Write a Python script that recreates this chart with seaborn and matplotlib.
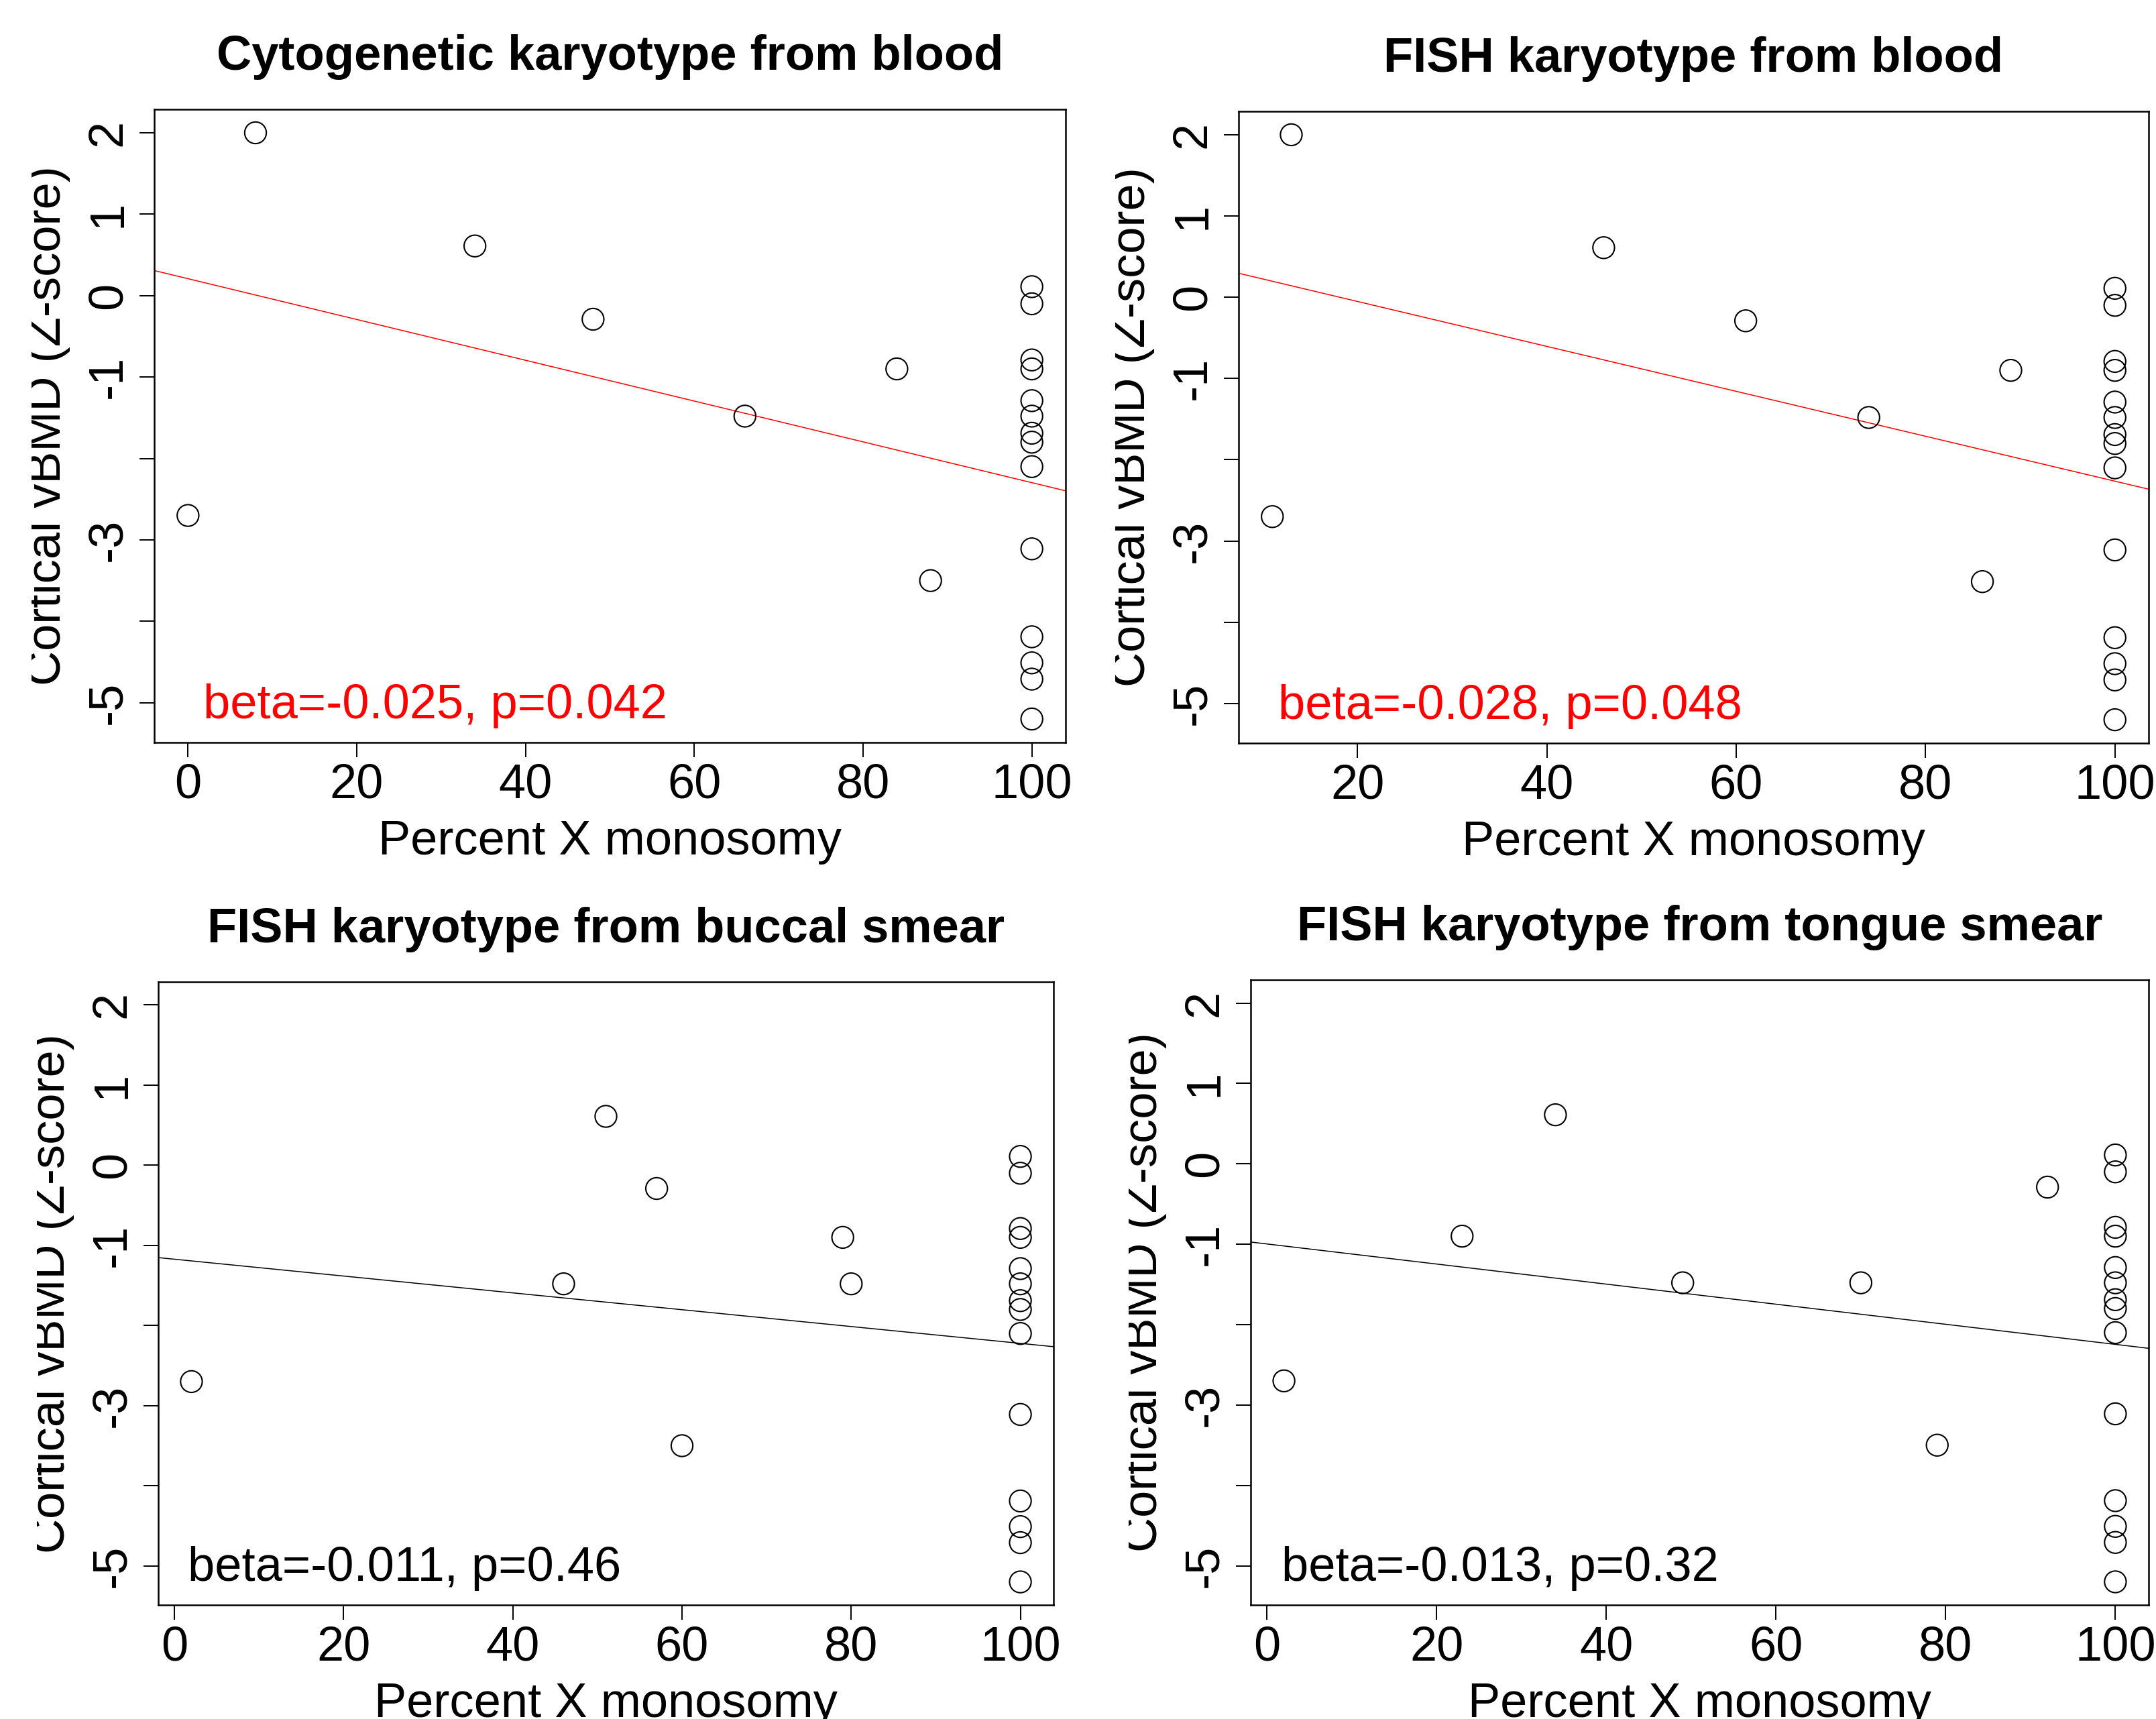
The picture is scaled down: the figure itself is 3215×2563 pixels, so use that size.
import matplotlib
matplotlib.use('Agg')
import matplotlib.pyplot as plt
import matplotlib.transforms as mtransforms
import seaborn as sns

# values
# x = percent X monosomy, y = cortical vBMD (Z-score)
cyto_blood_x = [0, 8, 34, 48, 66, 84, 88,
                100, 100, 100, 100, 100, 100, 100, 100, 100, 100, 100, 100, 100, 100]
cyto_blood_y = [-2.70, 2.00, 0.61, -0.29, -1.48, -0.90, -3.50,
                0.11, -0.10, -0.79, -0.90, -1.29, -1.48, -1.69, -1.80, -2.10,
                -3.11, -4.19, -4.51, -4.71, -5.20]

fish_blood_x = [11, 13, 46, 61, 74, 89, 86,
                100, 100, 100, 100, 100, 100, 100, 100, 100, 100, 100, 100, 100, 100]
fish_blood_y = [-2.70, 2.00, 0.61, -0.29, -1.48, -0.90, -3.50,
                0.11, -0.10, -0.79, -0.90, -1.29, -1.48, -1.69, -1.80, -2.10,
                -3.11, -4.19, -4.51, -4.71, -5.20]

fish_buccal_x = [2, 46, 51, 57, 60, 79, 80,
                 100, 100, 100, 100, 100, 100, 100, 100, 100, 100, 100, 100, 100, 100]
fish_buccal_y = [-2.70, -1.48, 0.61, -0.29, -3.50, -0.90, -1.48,
                 0.11, -0.10, -0.79, -0.90, -1.29, -1.48, -1.69, -1.80, -2.10,
                 -3.11, -4.19, -4.51, -4.71, -5.20]

fish_tongue_x = [2, 23, 34, 49, 70, 79, 92,
                 100, 100, 100, 100, 100, 100, 100, 100, 100, 100, 100, 100, 100, 100]
fish_tongue_y = [-2.70, -0.90, 0.61, -1.48, -1.48, -3.50, -0.29,
                 0.11, -0.10, -0.79, -0.90, -1.29, -1.48, -1.69, -1.80, -2.10,
                 -3.11, -4.19, -4.51, -4.71, -5.20]

# fitted lines as drawn (intercept, slope)
fit_intercepts = [0.208, 0.501, -1.173, -0.997]
fit_slopes = [-0.02505, -0.02765, -0.0105, -0.01249]

titles = ['Cytogenetic karyotype from blood', 'FISH karyotype from blood',
          'FISH karyotype from buccal smear', 'FISH karyotype from tongue smear']
stats_labels = ['beta=-0.025, p=0.042', 'beta=-0.028, p=0.048',
                'beta=-0.011, p=0.46', 'beta=-0.013, p=0.32']
xtick_vals = [0, 20, 40, 60, 80, 100]
xtick_labels = ['0', '20', '40', '60', '80', '100']
ytick_vals = [2, 1, 0, -1, -2, -3, -4, -5]
ytick_labels = ['2', '1', '0', '-1', '', '-3', '', '-5']

xs = [cyto_blood_x, fish_blood_x, fish_buccal_x, fish_tongue_x]
ys = [cyto_blood_y, fish_blood_y, fish_buccal_y, fish_tongue_y]
colors = ['red', 'red', 'black', 'black']

sns.set_style('ticks')
plt.rcParams['font.family'] = ['Liberation Sans', 'DejaVu Sans']
plt.rcParams['axes.unicode_minus'] = False
plt.rcParams['text.color'] = 'black'
plt.rcParams['axes.labelcolor'] = 'black'

W, H = 3215, 2563
FS = 52
fig = plt.figure(figsize=(W / 100, H / 100), dpi=100)
fig.patch.set_facecolor('white')

# axes boxes in pixels: left, top, right, bottom
boxes = [(230, 163, 1589, 1107), (1847, 166, 3204, 1108),
         (236, 1464, 1571, 2393), (1865, 1461, 3204, 2393)]
label_clip = [47, 1663, 55, 1683]
ann_x = [1.8, 11.6, 1.6, 1.7]

all_y = cyto_blood_y + fish_blood_y + fish_buccal_y + fish_tongue_y
ylo, yhi = min(all_y), max(all_y)
ypad = 0.04 * (yhi - ylo)

for i in range(4):
    l, t, r, b = boxes[i]
    ax = fig.add_axes([l / W, 1 - b / H, (r - l) / W, (b - t) / H])
    x = xs[i]
    y = ys[i]
    sns.scatterplot(x=x, y=y, ax=ax, marker='o', s=540, facecolor='none',
                    edgecolor='black', linewidth=1.5, zorder=3)

    # ticks first: set_ticks widens the view to fit them
    ax.set_xticks(xtick_vals, xtick_labels)
    ax.set_yticks(ytick_vals, ytick_labels, rotation=90, va='center')
    xpad = 0.04 * (max(x) - min(x))
    ax.set_xlim(min(x) - xpad, max(x) + xpad)
    ax.set_ylim(ylo - ypad, yhi + ypad)
    ax.axline((0, fit_intercepts[i]), slope=fit_slopes[i], color=colors[i], lw=1.1)

    ax.tick_params(axis='both', direction='out', length=16, width=1.4,
                   color='black', labelcolor='black', labelsize=FS)
    ax.tick_params(axis='x', pad=6)
    ax.tick_params(axis='y', pad=9)
    for s in ax.spines.values():
        s.set_visible(True)
        s.set_color('black')
        s.set_linewidth(1.8)

    ax.set_title(titles[i], fontsize=FS, fontweight='bold', pad=42.5, color='black')
    ax.set_xlabel('Percent X monosomy', fontsize=FS)
    ax.xaxis.set_label_coords(0.5, 0, transform=ax.transAxes +
                              mtransforms.ScaledTranslation(0, -1.15, fig.dpi_scale_trans))
    ax.set_ylabel('Cortical vBMD (Z-score)', fontsize=FS)
    ax.yaxis.set_label_coords(0, 0.5, transform=ax.transAxes +
                              mtransforms.ScaledTranslation(-1.25, 0, fig.dpi_scale_trans))
    lab = ax.yaxis.label
    lab.set_clip_box(mtransforms.TransformedBbox(
        mtransforms.Bbox([[label_clip[i] / W, 0], [1, 1]]), fig.transFigure))
    lab.set_clip_on(True)

    ax.text(ann_x[i], -5.19, stats_labels[i], color=colors[i], fontsize=FS,
            ha='left', va='baseline')

fig.savefig('out.png', dpi=100)
plt.close()
